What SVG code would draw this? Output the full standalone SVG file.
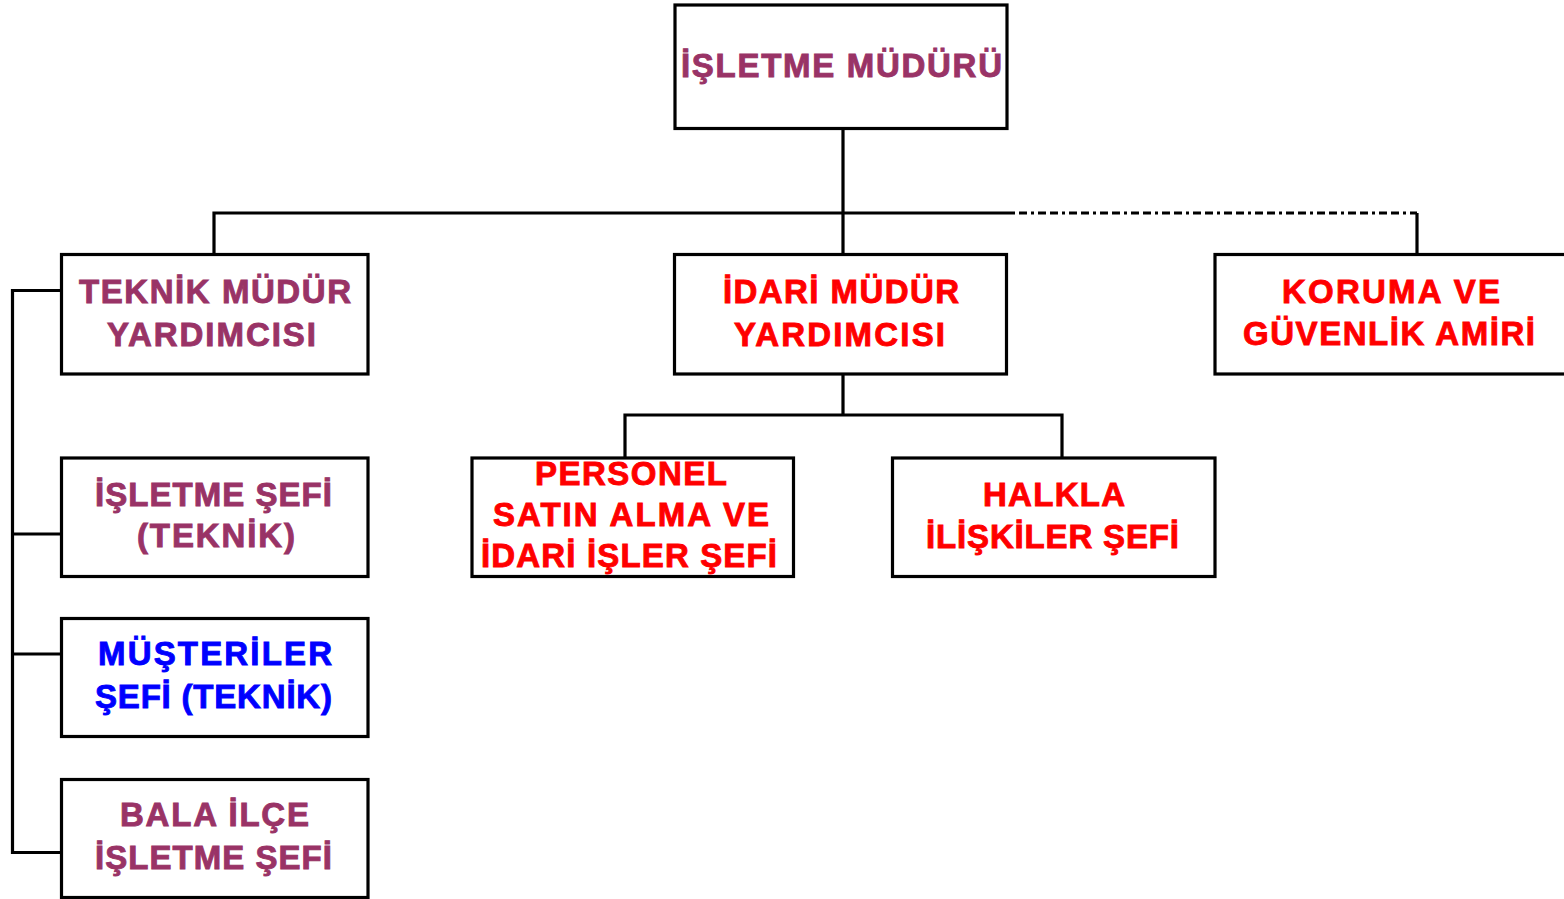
<svg xmlns="http://www.w3.org/2000/svg" width="1564" height="899" viewBox="0 0 1564 899">
<style>
.box{fill:#fff;stroke:#000;stroke-width:3.2}
.ln{fill:none;stroke:#000;stroke-width:3.2}
.t{font-family:"Liberation Sans",Arial,sans-serif;font-weight:bold;font-size:33px;stroke-width:0.9}
.p{fill:#993366;stroke:#993366}
.r{fill:#FF0000;stroke:#FF0000}
.b{fill:#0000FF;stroke:#0000FF}
</style>
<rect width="1564" height="899" fill="#fff"/>
<g id="connectors">
<path class="ln" d="M843,128 V213 M214,254 V213 H1007 M843,213 V254"/>
<path class="ln" d="M1007,213 H1417" stroke-dasharray="8 4 8 4 3 4"/>
<path class="ln" d="M1417,213 V254"/>
<path class="ln" d="M843,374 V415 M625,458 V415 H1062 V458"/>
<path class="ln" d="M62,290.5 H12.5 V852.5 H62 M12.5,534 H62 M12.5,654 H62"/>
</g>
<g id="n-isletme-muduru">
<rect class="box" x="675" y="5" width="332" height="123.5"/>
<text class="t p" x="681" y="77" textLength="321" lengthAdjust="spacing">İŞLETME MÜDÜRÜ</text>
</g>
<g id="n-teknik">
<rect class="box" x="61.5" y="254.5" width="306.5" height="119.5"/>
<text class="t p" x="79" y="303" textLength="272" lengthAdjust="spacing">TEKNİK MÜDÜR</text>
<text class="t p" x="107" y="346" textLength="209" lengthAdjust="spacing">YARDIMCISI</text>
</g>
<g id="n-idari">
<rect class="box" x="674.5" y="254.5" width="332" height="119.5"/>
<text class="t r" x="723" y="303" textLength="236" lengthAdjust="spacing">İDARİ MÜDÜR</text>
<text class="t r" x="734" y="346" textLength="211" lengthAdjust="spacing">YARDIMCISI</text>
</g>
<g id="n-koruma">
<rect class="box" x="1215" y="254.5" width="352" height="119.5"/>
<text class="t r" x="1282" y="303" textLength="218" lengthAdjust="spacing">KORUMA VE</text>
<text class="t r" x="1243" y="345" textLength="292" lengthAdjust="spacing">GÜVENLİK AMİRİ</text>
</g>
<g id="n-isletme-sefi">
<rect class="box" x="61.5" y="458" width="306.5" height="118.5"/>
<text class="t p" x="95" y="506" textLength="237" lengthAdjust="spacing">İŞLETME ŞEFİ</text>
<text class="t p" x="137" y="547" textLength="158" lengthAdjust="spacing">(TEKNİK)</text>
</g>
<g id="n-musteriler">
<rect class="box" x="61.5" y="618.5" width="306.5" height="118"/>
<text class="t b" x="98" y="665" textLength="234" lengthAdjust="spacing">MÜŞTERİLER</text>
<text class="t b" x="95" y="708" textLength="237" lengthAdjust="spacing">ŞEFİ (TEKNİK)</text>
</g>
<g id="n-bala">
<rect class="box" x="61.5" y="779.5" width="306.5" height="118"/>
<text class="t p" x="120" y="826" textLength="189" lengthAdjust="spacing">BALA İLÇE</text>
<text class="t p" x="95" y="869" textLength="237" lengthAdjust="spacing">İŞLETME ŞEFİ</text>
</g>
<g id="n-personel">
<rect class="box" x="472" y="458" width="321.5" height="118.5"/>
<text class="t r" x="535" y="485" textLength="192" lengthAdjust="spacing">PERSONEL</text>
<text class="t r" x="493" y="526" textLength="276" lengthAdjust="spacing">SATIN ALMA VE</text>
<text class="t r" x="481" y="567" textLength="296" lengthAdjust="spacing">İDARİ İŞLER ŞEFİ</text>
</g>
<g id="n-halkla">
<rect class="box" x="892.5" y="458" width="322.5" height="118.5"/>
<text class="t r" x="983" y="506" textLength="142" lengthAdjust="spacing">HALKLA</text>
<text class="t r" x="926" y="548" textLength="253" lengthAdjust="spacing">İLİŞKİLER ŞEFİ</text>
</g>
</svg>
